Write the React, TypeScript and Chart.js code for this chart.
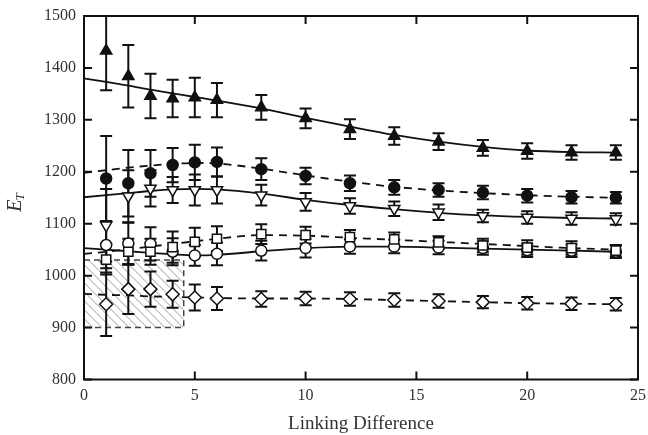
import React, { useEffect, useRef } from "react";
import { Chart, registerables } from "chart.js";
Chart.register(...registerables);

// ---- data ----
const xPoints = [1, 2, 3, 4, 5, 6, 8, 10, 12, 14, 16, 18, 20, 22, 24];
const triUpVals = [1433, 1384, 1346, 1341, 1343, 1338, 1324, 1303, 1282, 1269, 1258, 1246, 1240, 1237, 1237];
const triUpErr = [76, 60, 43, 36, 38, 33, 24, 19, 19, 17, 16, 15, 15, 14, 14];
const dotVals = [1187, 1178, 1197, 1213, 1218, 1219, 1205, 1192, 1178, 1170, 1165, 1160, 1154, 1151, 1150];
const dotErr = [82, 64, 45, 33, 34, 28, 21, 16, 15, 14, 13, 13, 13, 12, 11];
const triDownVals = [1097, 1153, 1168, 1165, 1165, 1165, 1155, 1142, 1134, 1129, 1122, 1115, 1112, 1110, 1109];
const triDownErr = [70, 50, 35, 25, 30, 26, 20, 17, 15, 14, 15, 12, 12, 12, 11];
const squareVals = [1031, 1046, 1046, 1055, 1065, 1071, 1080, 1078, 1074, 1070, 1064, 1058, 1054, 1053, 1048];
const squareErr = [29, 25, 25, 30, 27, 24, 19, 16, 14, 13, 12, 13, 14, 13, 11];
const ringVals = [1059, 1062, 1061, 1046, 1039, 1042, 1048, 1053, 1056, 1056, 1054, 1053, 1049, 1048, 1046];
const ringErr = [45, 40, 32, 26, 20, 22, 19, 18, 14, 13, 13, 13, 13, 12, 12];
const diamondVals = [945, 974, 974, 964, 958, 956, 955, 956, 955, 953, 951, 949, 947, 946, 945];
const diamondErr = [61, 48, 34, 26, 25, 22, 15, 13, 13, 13, 13, 12, 12, 12, 12];

const fitX = [0, 1, 2, 3, 4, 5, 6, 8, 10, 12, 14, 16, 18, 20, 22, 24];
const triUpFit = [1380, 1373, 1366, 1358, 1351, 1344, 1337, 1322, 1304, 1287, 1271, 1258, 1248, 1241, 1238, 1237];
const dotFit = [1198, 1203, 1208, 1212, 1215, 1217, 1216, 1206, 1193, 1181, 1171, 1164, 1159, 1155, 1152, 1150];
const triDownFit = [1151, 1155, 1159, 1163, 1166, 1167, 1166, 1158, 1146, 1136, 1128, 1121, 1116, 1113, 1111, 1110];
const squareFit = [1042, 1046, 1051, 1056, 1061, 1066, 1071, 1078, 1077, 1073, 1069, 1065, 1061, 1057, 1053, 1050];
const ringFit = [1053, 1050, 1047, 1044, 1041, 1039, 1040, 1047, 1053, 1056, 1056, 1054, 1052, 1050, 1048, 1046];
const diamondFit = [965, 963, 962, 960, 959, 958, 957, 956, 956, 955, 953, 951, 949, 947, 946, 945];

const hatchX = [0, 4.5];
const hatchY = [900, 1030];

const xTicks = [0, 5, 10, 15, 20, 25];
const yTicks = [800, 900, 1000, 1100, 1200, 1300, 1400, 1500];

const xTitle = "Linking Difference";

const FONT = "'Liberation Serif', 'DejaVu Serif', serif";
const INK = "#111";

const toPts = (xs: number[], ys: number[]) => xs.map((x, i) => ({ x, y: ys[i] }));

const bgPlugin = {
  id: "bgDecor",
  beforeDatasetsDraw(chart: any) {
    const { ctx, chartArea: ca, scales } = chart;
    const xs = scales.x, ys = scales.y;
    ctx.save();
    ctx.beginPath();
    ctx.rect(ca.left, ca.top, ca.right - ca.left, ca.bottom - ca.top);
    ctx.clip();
    // hatched box
    const x0 = xs.getPixelForValue(hatchX[0]);
    const x1 = xs.getPixelForValue(hatchX[1]);
    const yT = ys.getPixelForValue(hatchY[1]);
    const yB = ys.getPixelForValue(hatchY[0]);
    ctx.save();
    ctx.beginPath();
    ctx.rect(x0, yT, x1 - x0, yB - yT);
    ctx.clip();
    ctx.strokeStyle = "#9a9a9a";
    ctx.lineWidth = 1;
    const h = yB - yT;
    for (let s = x0 - h; s < x1 + 10; s += 9) {
      ctx.beginPath();
      ctx.moveTo(s, yT);
      ctx.lineTo(s + h, yB);
      ctx.stroke();
    }
    ctx.restore();
    ctx.strokeStyle = "#444";
    ctx.lineWidth = 1.5;
    ctx.setLineDash([6, 4]);
    ctx.beginPath();
    ctx.moveTo(x0, yT);
    ctx.lineTo(x1, yT);
    ctx.lineTo(x1, yB);
    ctx.lineTo(x0, yB);
    ctx.stroke();
    ctx.setLineDash([]);
    // error bars
    ctx.strokeStyle = INK;
    ctx.lineWidth = 2;
    chart.data.datasets.forEach((ds: any) => {
      if (!ds.errors) return;
      ds.data.forEach((p: any, i: number) => {
        const px = xs.getPixelForValue(p.x);
        const t = ys.getPixelForValue(p.y + ds.errors[i]);
        const b = ys.getPixelForValue(p.y - ds.errors[i]);
        ctx.beginPath();
        ctx.moveTo(px, t);
        ctx.lineTo(px, b);
        ctx.moveTo(px - 6, t);
        ctx.lineTo(px + 6, t);
        ctx.moveTo(px - 6, b);
        ctx.lineTo(px + 6, b);
        ctx.stroke();
      });
    });
    ctx.restore();
  },
  afterDraw(chart: any) {
    const { ctx, chartArea: ca, scales } = chart;
    const xs = scales.x, ys = scales.y;
    ctx.save();
    ctx.strokeStyle = INK;
    ctx.lineWidth = 2;
    ctx.strokeRect(ca.left, ca.top, ca.right - ca.left, ca.bottom - ca.top);
    const tl = 8;
    ctx.beginPath();
    xTicks.forEach((v) => {
      const px = xs.getPixelForValue(v);
      ctx.moveTo(px, ca.bottom);
      ctx.lineTo(px, ca.bottom - tl);
      ctx.moveTo(px, ca.top);
      ctx.lineTo(px, ca.top + tl);
    });
    yTicks.forEach((v) => {
      const py = ys.getPixelForValue(v);
      ctx.moveTo(ca.left, py);
      ctx.lineTo(ca.left + tl, py);
      ctx.moveTo(ca.right, py);
      ctx.lineTo(ca.right - tl, py);
    });
    ctx.stroke();
    // axis titles
    ctx.fillStyle = "#333";
    ctx.textAlign = "center";
    ctx.textBaseline = "middle";
    ctx.font = `19px ${FONT}`;
    ctx.fillText(xTitle, (ca.left + ca.right) / 2, 424);
    ctx.save();
    ctx.translate(16, (ca.top + ca.bottom) / 2 + 6);
    ctx.rotate(-Math.PI / 2);
    ctx.textAlign = "left";
    ctx.font = `italic 20px ${FONT}`;
    ctx.fillText("E", -8, 0);
    const w = ctx.measureText("E").width;
    ctx.font = `italic 13px ${FONT}`;
    ctx.fillText("T", -8 + w - 1, 5);
    ctx.restore();
    ctx.restore();
  },
};

export default function App() {
  const ref = useRef<HTMLCanvasElement | null>(null);
  useEffect(() => {
    if (!ref.current) return;
    const markerBase = { showLine: false, order: 0, pointBorderColor: INK, pointBorderWidth: 1.5 };
    const fitBase = {
      showLine: true,
      pointRadius: 0,
      borderColor: INK,
      borderWidth: 1.8,
      cubicInterpolationMode: "monotone",
      order: 5,
      fill: false,
    };
    const chart = new Chart(ref.current, {
      type: "line",
      data: {
        datasets: [
          { ...fitBase, data: toPts(fitX, triUpFit) },
          { ...fitBase, data: toPts(fitX, dotFit), borderDash: [8, 6] },
          { ...fitBase, data: toPts(fitX, triDownFit) },
          { ...fitBase, data: toPts(fitX, squareFit), borderDash: [8, 6] },
          { ...fitBase, data: toPts(fitX, ringFit) },
          { ...fitBase, data: toPts(fitX, diamondFit), borderDash: [8, 6] },
          { ...markerBase, data: toPts(xPoints, triUpVals), errors: triUpErr, pointStyle: "triangle", pointRadius: 6.5, pointBackgroundColor: INK },
          { ...markerBase, data: toPts(xPoints, dotVals), errors: dotErr, pointStyle: "circle", pointRadius: 5.5, pointBackgroundColor: INK },
          { ...markerBase, data: toPts(xPoints, triDownVals), errors: triDownErr, pointStyle: "triangle", pointRotation: 180, pointRadius: 6.5, pointBackgroundColor: "#fff" },
          { ...markerBase, data: toPts(xPoints, squareVals), errors: squareErr, pointStyle: "rect", pointRadius: 6.5, pointBackgroundColor: "#fff" },
          { ...markerBase, data: toPts(xPoints, ringVals), errors: ringErr, pointStyle: "circle", pointRadius: 5.5, pointBackgroundColor: "#fff" },
          { ...markerBase, data: toPts(xPoints, diamondVals), errors: diamondErr, pointStyle: "rectRot", pointRadius: 6.5, pointBackgroundColor: "#fff" },
        ] as any,
      },
      options: {
        animation: false,
        responsive: false,
        devicePixelRatio: 1,
        layout: { padding: { top: 16, right: 10, left: 0, bottom: 0 } },
        plugins: { legend: { display: false }, tooltip: { enabled: false } },
        scales: {
          x: {
            type: "linear",
            min: 0,
            max: 25,
            ticks: { stepSize: 5, padding: 7, maxRotation: 0, color: "#333", font: { family: FONT, size: 16 }, callback: (v: any) => String(v) },
            grid: { display: false, drawTicks: false },
            border: { display: false },
            afterFit: (s: any) => { s.height = 55.5; s.paddingLeft = 0; s.paddingRight = 0; },
          },
          y: {
            type: "linear",
            min: 800,
            max: 1500,
            ticks: { stepSize: 100, padding: 8, color: "#333", font: { family: FONT, size: 16 }, callback: (v: any) => String(v) },
            grid: { display: false, drawTicks: false },
            border: { display: false },
            afterFit: (s: any) => { s.width = 84; s.paddingTop = 0; s.paddingBottom = 0; },
          },
        },
      } as any,
      plugins: [bgPlugin],
    });
    return () => chart.destroy();
  }, []);
  return (
    <div style={{ position: "absolute", left: 0, top: 0, width: 648, height: 435, background: "#fff" }}>
      <canvas ref={ref} width={648} height={435} style={{ display: "block", width: 648, height: 435 }} />
    </div>
  );
}
